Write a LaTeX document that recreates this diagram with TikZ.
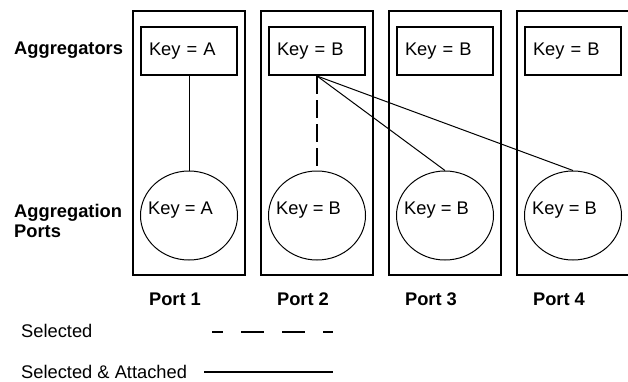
\documentclass[tikz,border=0pt]{standalone}
\usepackage{fontspec}
\setmainfont{Liberation Sans}
\usepackage{tikz}
\usetikzlibrary{positioning, shapes.geometric}
\tikzset{
    every node/.style={font=\fontsize{18.3}{20.5}\selectfont}, % plain text everywhere
    portbox/.style={draw, line width=2pt, minimum width=112pt, minimum height=264.5pt, inner sep=0pt}, % frame round one port
    aggbox/.style={draw, line width=2pt, minimum width=96pt, minimum height=48pt, text width=80pt, inner xsep=8pt, inner ysep=0pt, align=left}, % aggregator
    portcircle/.style={draw, ellipse, line width=1pt, minimum width=97pt, minimum height=89pt, inner sep=0pt}, % aggregation port
    keytext/.style={anchor=west, inner sep=0pt},
    rowlabel/.style={anchor=west, inner sep=0pt, align=left, font=\bfseries\fontsize{18.3}{20.5}\selectfont},
    portlabel/.style={inner sep=0pt, font=\bfseries\fontsize{18.3}{20.5}\selectfont},
    link/.style={line width=1pt}, % selected & attached
    selected/.style={line width=2pt, dash pattern=on 18pt off 6pt}, % selected only
    node distance=128pt, % one port to the next
}
\begin{document}
\begin{tikzpicture}[x=1pt, y=-1pt]
    \useasboundingbox (0,0) rectangle (628,381);
    % port frames
    \node[portbox] (b1) at (189,142.75) {};
    \node[portbox, right of=b1] (b2) {};
    \node[portbox, right of=b2] (b3) {};
    \node[portbox, right of=b3] (b4) {};
    % aggregators
    \node[aggbox] (a1) at (189,51) {Key = A};
    \node[aggbox, right of=a1] (a2) {Key = B};
    \node[aggbox, right of=a2] (a3) {Key = B};
    \node[aggbox, right of=a3] (a4) {Key = B};
    % aggregation ports
    \node[portcircle] (c1) at (189,215.5) {};
    \node[portcircle, right of=c1] (c2) {};
    \node[portcircle, right of=c2] (c3) {};
    \node[portcircle, right of=c3] (c4) {};
    \node[keytext] (k1) at ([xshift=8pt, yshift=5pt]c1.west) {Key = A};
    \node[keytext] (k2) at ([xshift=8pt, yshift=5pt]c2.west) {Key = B};
    \node[keytext] (k3) at ([xshift=8pt, yshift=5pt]c3.west) {Key = B};
    \node[keytext] (k4) at ([xshift=8pt, yshift=5pt]c4.west) {Key = B};
    % row and port labels
    \node[rowlabel] (aggs) at (14,50) {Aggregators};
    \node[rowlabel] (ports) at (14,221) {Aggregation\\Ports};
    \node[portlabel] (l1) at ([xshift=-14pt, yshift=-23.5pt]b1.south) {Port 1};
    \node[portlabel] (l2) at ([xshift=-14pt, yshift=-23.5pt]b2.south) {Port 2};
    \node[portlabel] (l3) at ([xshift=-14pt, yshift=-23.5pt]b3.south) {Port 3};
    \node[portlabel] (l4) at ([xshift=-14pt, yshift=-23.5pt]b4.south) {Port 4};
    % links
    \draw[link] (a1.south) -- (c1.north);
    \draw[selected] (a2.south) -- (c2.north);
    \draw[link] (a2.south) -- (c3.north);
    \draw[link] (a2.south) -- (c4.north);
    % legend
    \node[keytext] (sel) at (21,331) {Selected};
    \node[keytext] (selatt) at (21,371.5) {Selected \& Attached};
    \coordinate (s1) at (212,332);
    \coordinate (s2) at (333,332);
    \coordinate (t1) at (204,372);
    \coordinate (t2) at (333,372);
    \draw[line width=2pt, dash pattern=on 23pt off 18pt, dash phase=12pt] (s1) -- (s2);
    \draw[line width=2pt] (t1) -- (t2);
\end{tikzpicture}
\end{document}
